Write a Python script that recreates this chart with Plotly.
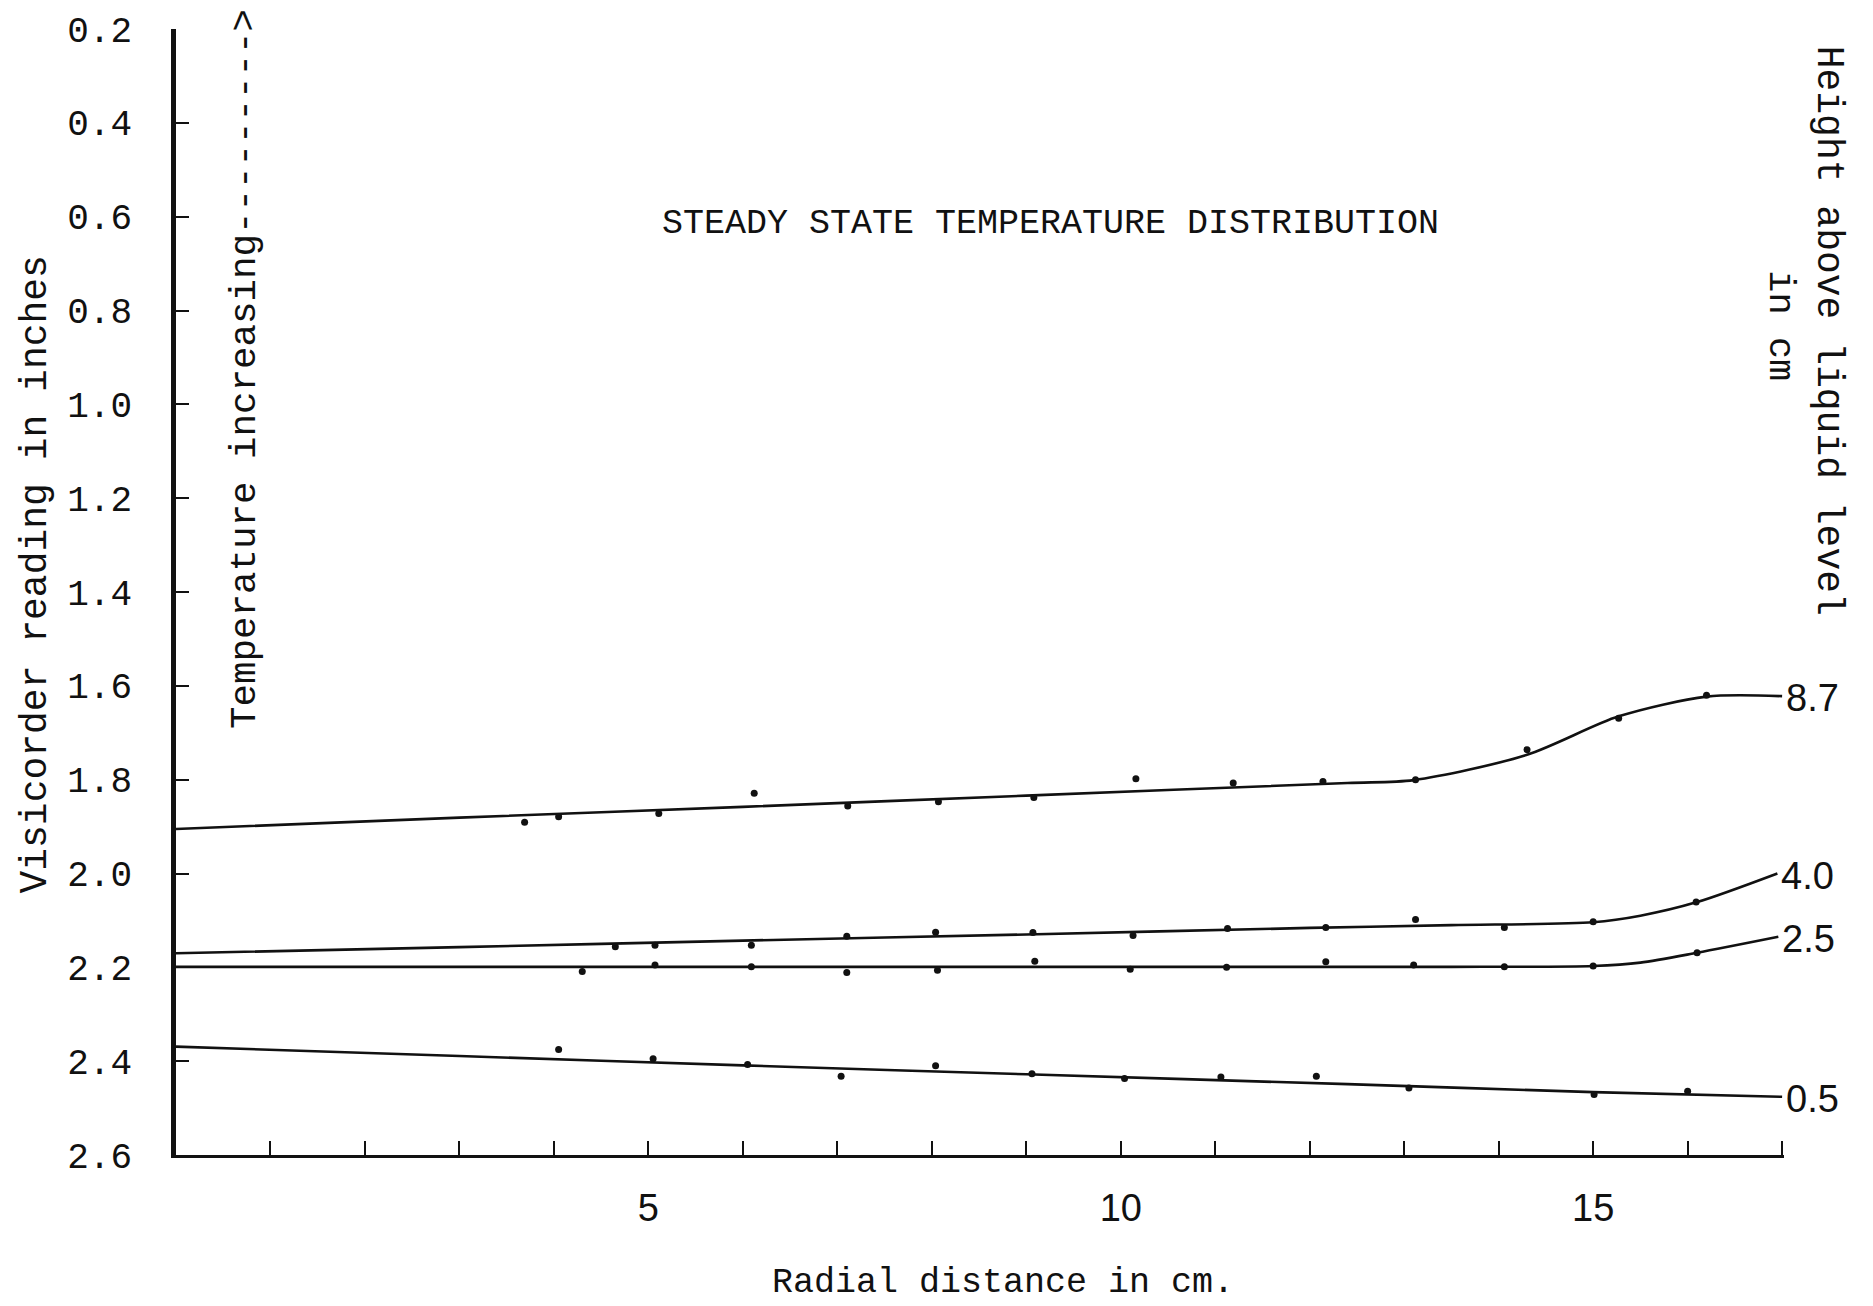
import plotly.graph_objects as go

# Radial positions (cm) and Visicorder readings (inches) at each height above liquid level
heights = ["8.7", "4.0", "2.5", "0.5"]

# Measured points
p87_x = [3.69, 4.05, 5.11, 6.12, 7.11, 8.07, 9.08, 10.16, 11.19, 12.14, 13.12, 14.30, 15.27, 16.20]
p87_y = [1.891, 1.879, 1.872, 1.829, 1.856, 1.847, 1.838, 1.798, 1.807, 1.804, 1.800, 1.736, 1.669, 1.620]

p40_x = [4.65, 5.07, 6.09, 7.10, 8.04, 9.07, 10.13, 11.13, 12.17, 13.12, 14.06, 15.00, 16.09]
p40_y = [2.156, 2.153, 2.153, 2.134, 2.125, 2.126, 2.132, 2.117, 2.115, 2.098, 2.115, 2.103, 2.061]

p25_x = [4.30, 5.07, 6.09, 7.10, 8.06, 9.09, 10.10, 11.12, 12.17, 13.10, 14.06, 15.00, 16.10]
p25_y = [2.209, 2.195, 2.199, 2.211, 2.206, 2.187, 2.204, 2.200, 2.188, 2.195, 2.199, 2.197, 2.169]

p05_x = [4.05, 5.05, 6.05, 7.04, 8.04, 9.06, 10.04, 11.06, 12.07, 13.05, 15.01, 16.00]
p05_y = [2.375, 2.395, 2.407, 2.432, 2.410, 2.427, 2.437, 2.434, 2.432, 2.457, 2.471, 2.464]

# Smoothed curves drawn through the measurements
c87_x = [0, 3.0, 6.0, 9.0, 12.4, 13.1, 14.3, 15.27, 16.2, 17.0]
c87_y = [1.905, 1.881, 1.858, 1.834, 1.807, 1.801, 1.747, 1.665, 1.623, 1.622]

c40_x = [0, 3.0, 6.0, 9.0, 12.0, 13.5, 15.0, 15.5, 16.1, 16.95]
c40_y = [2.170, 2.157, 2.143, 2.130, 2.116, 2.110, 2.104, 2.090, 2.061, 2.000]

c25_x = [0, 3.0, 6.0, 9.0, 12.0, 13.5, 15.0, 15.5, 16.1, 16.96]
c25_y = [2.199, 2.199, 2.199, 2.199, 2.199, 2.199, 2.197, 2.190, 2.169, 2.135]

c05_x = [0, 3.0, 6.0, 9.0, 12.4, 15.0, 17.0]
c05_y = [2.369, 2.389, 2.409, 2.428, 2.449, 2.466, 2.476]

# Axis ticks
x_tickvals = list(range(1, 18))
x_ticktext = ["5" if v == 5 else "10" if v == 10 else "15" if v == 15 else "" for v in x_tickvals]
y_tickvals = [0.2, 0.4, 0.6, 0.8, 1.0, 1.2, 1.4, 1.6, 1.8, 2.0, 2.2, 2.4, 2.6]
y_ticktext = ["0.2", "0.4", "0.6", "0.8", "1.0", "1.2", "1.4", "1.6", "1.8", "2.0", "2.2", "2.4", "2.6"]

MONO = "Liberation Mono, Courier New, monospace"
HAND = "Liberation Sans, Arial, sans-serif"
INK = "#111111"

curves = [(c87_x, c87_y), (c40_x, c40_y), (c25_x, c25_y), (c05_x, c05_y)]
points = [(p87_x, p87_y), (p40_x, p40_y), (p25_x, p25_y), (p05_x, p05_y)]

fig = go.Figure()
for name, (cx, cy), (px, py) in zip(heights, curves, points):
    fig.add_trace(go.Scatter(
        x=cx, y=cy, mode="lines", name=name,
        line=dict(color=INK, width=2.6, shape="spline", smoothing=0.8),
        showlegend=False, cliponaxis=False,
    ))
    fig.add_trace(go.Scatter(
        x=px, y=py, mode="markers", name=name,
        marker=dict(color=INK, size=7),
        showlegend=False, cliponaxis=False,
    ))
    # height label at the curve's right end
    fig.add_annotation(
        x=cx[-1], y=cy[-1], xref="x", yref="y",
        text=name, showarrow=False, xanchor="left", yanchor="middle",
        xshift=2, yshift=-2,
        font=dict(family=HAND, size=38, color=INK),
    )

fig.add_annotation(
    x=9.26, y=0.615, xref="x", yref="y",
    text="STEADY STATE TEMPERATURE DISTRIBUTION", showarrow=False,
    xanchor="center", yanchor="middle",
    font=dict(family=MONO, size=35, color=INK),
)
fig.add_annotation(
    x=0.73, y=0.925, xref="x", yref="y",
    text="Temperature increasing---------&gt;", showarrow=False, textangle=-90,
    xanchor="center", yanchor="middle",
    font=dict(family=MONO, size=37.5, color=INK),
)
fig.add_annotation(
    x=0.514, y=-0.1139, xref="paper", yref="paper",
    text="Radial distance in cm.", showarrow=False,
    xanchor="center", yanchor="middle",
    font=dict(family=MONO, size=35, color=INK),
)
fig.add_annotation(
    x=-0.0871, y=0.5163, xref="paper", yref="paper",
    text="Visicorder reading in inches", showarrow=False, textangle=-90,
    xanchor="center", yanchor="middle",
    font=dict(family=MONO, size=38, color=INK),
)
fig.add_annotation(
    x=1.0274, y=0.732, xref="paper", yref="paper",
    text="Height above liquid level", showarrow=False, textangle=90,
    xanchor="center", yanchor="middle",
    font=dict(family=MONO, size=38, color=INK),
)
fig.add_annotation(
    x=0.9975, y=0.736, xref="paper", yref="paper",
    text="in cm", showarrow=False, textangle=90,
    xanchor="center", yanchor="middle",
    font=dict(family=MONO, size=37, color=INK),
)

fig.update_xaxes(
    range=[0, 17.02], showgrid=False, zeroline=False,
    showline=True, linecolor=INK, linewidth=2.5,
    ticks="inside", ticklen=14, tickwidth=2.2, tickcolor=INK,
    tickvals=x_tickvals, ticktext=x_ticktext, ticklabelstandoff=18,
    tickfont=dict(family=HAND, size=38, color=INK),
)
fig.update_yaxes(
    range=[2.6, 0.2], showgrid=False, zeroline=False,
    showline=True, linecolor=INK, linewidth=4.5,
    ticks="inside", ticklen=13, tickwidth=2, tickcolor=INK,
    tickvals=y_tickvals, ticktext=y_ticktext, ticklabelstandoff=32,
    tickfont=dict(family=MONO, size=36, color=INK),
)
fig.update_layout(
    width=1873, height=1306,
    margin=dict(l=176, r=89, t=22, b=151),
    paper_bgcolor="white", plot_bgcolor="white",
)
fig.write_html("out.html")
